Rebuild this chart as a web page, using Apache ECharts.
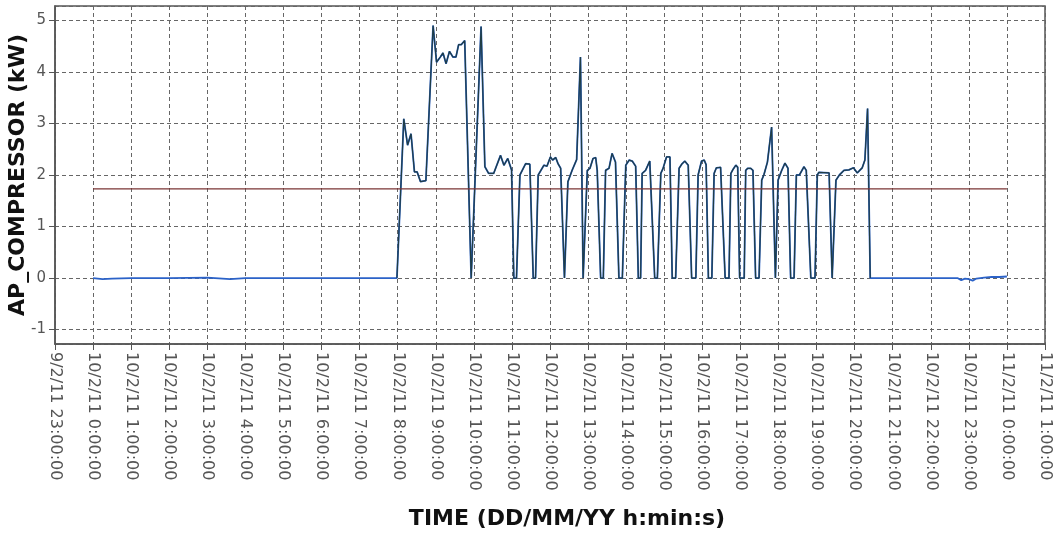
<!DOCTYPE html>
<html>
<head>
<meta charset="utf-8">
<script src="https://cdn.jsdelivr.net/npm/echarts@6/dist/echarts.min.js"></script>
<style>
html,body{margin:0;padding:0;background:#fff;}
#chart{width:1053px;height:533px;}
</style>
</head>
<body>
<div id="chart"></div>
<script>
// X tick labels, one per hour from -1 (9/2/11 23:00) to 25 (11/2/11 1:00)
const xTickLabels = [
  '9/2/11 23:00:00',
  '10/2/11 0:00:00','10/2/11 1:00:00','10/2/11 2:00:00','10/2/11 3:00:00',
  '10/2/11 4:00:00','10/2/11 5:00:00','10/2/11 6:00:00','10/2/11 7:00:00',
  '10/2/11 8:00:00','10/2/11 9:00:00','10/2/11 10:00:00','10/2/11 11:00:00',
  '10/2/11 12:00:00','10/2/11 13:00:00','10/2/11 14:00:00','10/2/11 15:00:00',
  '10/2/11 16:00:00','10/2/11 17:00:00','10/2/11 18:00:00','10/2/11 19:00:00',
  '10/2/11 20:00:00','10/2/11 21:00:00','10/2/11 22:00:00','10/2/11 23:00:00',
  '11/2/11 0:00:00','11/2/11 1:00:00'
];
const xTickStart = -1;

// Time in hours since 10/2/11 0:00:00
const hours = [
  0.00, 0.25, 0.50, 1.00, 2.00, 3.00, 3.40, 3.60, 4.00, 5.00, 6.00, 7.00, 7.98,
  8.16, 8.26, 8.35, 8.44, 8.51, 8.60, 8.74, 8.93, 9.02, 9.12, 9.19, 9.27, 9.36,
  9.45, 9.53, 9.60, 9.67, 9.76, 9.93, 10.19, 10.29, 10.39, 10.52, 10.70, 10.79,
  10.89, 10.99, 11.05, 11.12, 11.21, 11.36, 11.47, 11.56, 11.62, 11.69, 11.84,
  11.92, 12.01, 12.07, 12.15, 12.21, 12.28, 12.38, 12.47, 12.58, 12.70, 12.80,
  12.87, 12.98, 13.05, 13.13, 13.20, 13.24, 13.33, 13.40, 13.46, 13.55, 13.63,
  13.72, 13.81, 13.90, 13.99, 14.08, 14.16, 14.25, 14.32, 14.38, 14.42, 14.51,
  14.62, 14.67, 14.75, 14.82, 14.91, 14.97, 15.06, 15.15, 15.21, 15.30, 15.39,
  15.46, 15.54, 15.63, 15.72, 15.83, 15.89, 15.98, 16.05, 16.10, 16.16, 16.25,
  16.31, 16.37, 16.48, 16.60, 16.70, 16.75, 16.80, 16.88, 16.93, 16.98, 17.10,
  17.14, 17.19, 17.27, 17.33, 17.40, 17.49, 17.56, 17.62, 17.71, 17.82, 17.92,
  17.99, 18.08, 18.17, 18.25, 18.32, 18.41, 18.47, 18.55, 18.67, 18.73, 18.85,
  18.96, 19.02, 19.06, 19.33, 19.41, 19.51, 19.60, 19.72, 19.85, 19.97, 20.07,
  20.20, 20.27, 20.34, 20.41, 21.00, 22.00, 22.70, 22.80, 22.90, 23.00, 23.10,
  23.20, 23.40, 23.60, 23.80, 24.00
];

// AP_COMPRESSOR power (kW)
const power = [
  0.00, -0.02, -0.01, 0.00, 0.00, 0.01, -0.01, -0.02, 0.00, 0.00, 0.00, 0.00, 0.00,
  3.09, 2.58, 2.80, 2.06, 2.06, 1.87, 1.89, 4.90, 4.19, 4.29, 4.37, 4.16, 4.40,
  4.29, 4.29, 4.53, 4.53, 4.61, 0.00, 4.88, 2.16, 2.03, 2.03, 2.38, 2.19,
  2.32, 2.10, 0.00, 0.00, 2.00, 2.22, 2.21, 0.00, 0.00, 2.00, 2.19,
  2.17, 2.35, 2.29, 2.34, 2.22, 2.13, 0.00, 1.87, 2.09, 2.30, 4.29,
  0.00, 2.09, 2.13, 2.32, 2.34, 2.09, 0.00, 0.00, 2.09, 2.13, 2.42,
  2.25, 0.00, 0.00, 2.19, 2.29, 2.27, 2.17, 0.00, 0.00, 2.03, 2.09,
  2.27, 2.25, 0.00, 0.00, 2.03, 2.13, 2.35, 2.35, 0.00, 0.00, 2.13,
  2.21, 2.27, 2.19, 0.00, 0.00, 2.00, 2.27, 2.29, 2.20, 0.00, 0.00,
  2.03, 2.14, 2.15, 0.00, 0.00, 2.03, 2.10, 2.19, 2.15, 0.00, 0.00,
  2.09, 2.13, 2.13, 2.09, 0.00, 0.00, 1.90, 2.01, 2.25, 2.93, 0.00,
  1.90, 2.08, 2.23, 2.13, 0.00, 0.00, 2.00, 2.00, 2.16, 2.09, 0.00,
  0.00, 2.00, 2.05, 2.04, 0.00, 1.90, 2.00, 2.09, 2.10, 2.14, 2.04,
  2.14, 2.29, 3.29, 0.00, 0.00, 0.00, 0.00, -0.04, -0.01, -0.02, -0.05,
  -0.01, 0.01, 0.02, 0.02, 0.03
];

// Reference level line
const refHours = [0, 24];
const refValue = 1.73;

// Period when the compressor is cycling (drawn in the darker tone)
const activeFrom = 7.98;
const activeTo = 20.41;

const points = hours.map((h, i) => [h, power[i]]);
const activePoints = points.filter(p => p[0] >= activeFrom && p[0] <= activeTo);
const refPoints = refHours.map(h => [h, refValue]);

const FONT = 'DejaVu Sans';
const chart = echarts.init(document.getElementById('chart'), null, {renderer: 'canvas'});
chart.setOption({
  animation: false,
  backgroundColor: '#ffffff',
  grid: {
    left: 55, right: 8, top: 6, bottom: 189,
    containLabel: false,
    outerBoundsMode: 'none',
    show: true, borderColor: '#555', borderWidth: 1.5, backgroundColor: '#fff'
  },
  xAxis: {
    type: 'value',
    min: -1, max: 25, interval: 1,
    name: 'TIME (DD/MM/YY h:min:s)',
    nameLocation: 'middle',
    nameGap: 164,
    nameMoveOverlap: false,
    nameTextStyle: {fontFamily: FONT, fontSize: 22, fontWeight: 'bold', color: '#111', padding: [0, 0, 0, 34]},
    axisLine: {show: true, onZero: false, lineStyle: {color: '#555', width: 1.5}},
    axisTick: {show: true, length: 6, lineStyle: {color: '#555'}},
    axisLabel: {
      rotate: -90, margin: 8, fontFamily: FONT, fontSize: 16, color: '#555',
      formatter: v => xTickLabels[Math.round(v - xTickStart)] || ''
    },
    splitLine: {show: true, lineStyle: {color: '#666', type: [4, 3], width: 1}}
  },
  yAxis: {
    type: 'value',
    min: -1.28, max: 5.28,
    name: 'AP_COMPRESSOR (kW)',
    nameLocation: 'middle',
    nameRotate: 90,
    nameGap: 26,
    nameMoveOverlap: false,
    nameTextStyle: {fontFamily: FONT, fontSize: 22, fontWeight: 'bold', color: '#111'},
    axisLine: {show: true, onZero: false, lineStyle: {color: '#555', width: 1.5}},
    axisTick: {show: true, length: 6, lineStyle: {color: '#555'}},
    axisLabel: {
      margin: 9, fontFamily: FONT, fontSize: 15, color: '#555',
      showMinLabel: false, showMaxLabel: false,
      formatter: v => (Math.abs(v - Math.round(v)) < 1e-6 ? String(Math.round(v)) : '')
    },
    splitLine: {show: true, lineStyle: {color: '#666', type: [4, 3], width: 1}}
  },
  series: [
    {
      type: 'line', data: points, symbol: 'none', z: 2,
      lineStyle: {color: '#2b62c8', width: 1.8}
    },
    {
      type: 'line', data: activePoints, symbol: 'none', z: 3,
      lineStyle: {color: '#1f3d45', width: 1.2}
    },
    {
      type: 'line', data: refPoints, symbol: 'none', z: 4,
      lineStyle: {color: '#7a3434', width: 1.3}
    }
  ]
});
</script>
</body>
</html>
